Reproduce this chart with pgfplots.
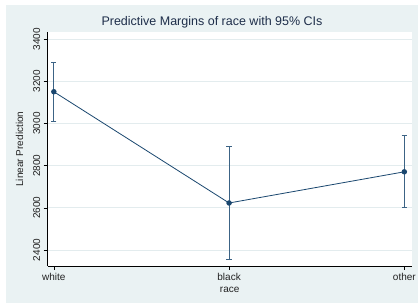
\documentclass[border=0pt]{standalone}
\usepackage{pgfplots}
\pgfplotsset{compat=1.18}
\usepackage{fontspec}
\setmainfont{Liberation Sans}
\definecolor{bgc}{HTML}{EAF2F3}
\definecolor{gridc}{HTML}{E3ECEE}
\definecolor{navy}{HTML}{1A476F}
\definecolor{titlec}{HTML}{1E2E4A}
\definecolor{txt}{HTML}{222222}
\begin{document}
\begin{tikzpicture}[x=1pt,y=1pt]
\path[use as bounding box] (0,0) rectangle (418,305);
\fill[bgc] (6,2) rectangle (418,300);
\node[font=\fontsize{12.5}{14}\selectfont, text=titlec] at (212,282.5) {Predictive Margins of race with 95\% CIs};
\begin{axis}[
  at={(47.7pt,39pt)}, anchor=south west,
  scale only axis, width=364pt, height=233.7pt,
  xmin=-0.035, xmax=2.042, ymin=2324, ymax=3433,
  axis background/.style={fill=white},
  axis x line*=bottom, axis y line*=left,
  axis line style={black, line width=0.7pt, -},
  xtick={0,1,2}, xticklabels={white,black,other},
  ytick={2400,2600,...,3400},
  tick align=outside, major tick length=4pt,
  tick style={black, line width=0.6pt},
  ymajorgrids, grid style={gridc, line width=0.8pt},
  ticklabel style={font=\fontsize{10}{12}\selectfont, text=txt},
  /pgf/number format/assume math mode=true,
  /pgf/number format/1000 sep={},
  yticklabel style={rotate=90, anchor=south},
  xlabel={race}, ylabel={Linear Prediction},
  label style={font=\fontsize{10}{12}\selectfont, text=txt},
  xlabel style={yshift=1pt},
  ylabel style={yshift=3pt},
  clip=false,
]
\addplot[navy, line width=0.8pt, mark=*, mark size=2.3pt,
  error bars/.cd, y dir=both, y explicit,
  error bar style={navy!85, line width=0.8pt},
  error mark options={rotate=90, mark size=2.6pt, navy!85, line width=0.8pt}]
  coordinates {
  (0,3151) +- (0,141)
  (1,2623) +- (0,267)
  (2,2771) +- (0,171)
  };
\end{axis}
\end{tikzpicture}
\end{document}
